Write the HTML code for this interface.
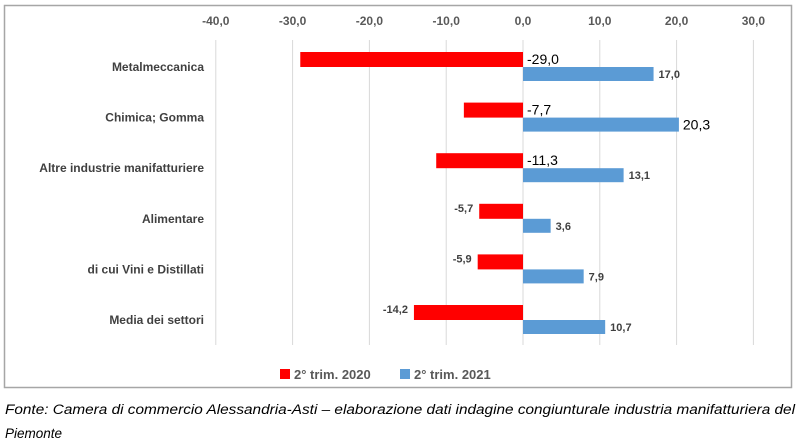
<!DOCTYPE html>
<html><head><meta charset="utf-8"><style>
html,body{margin:0;padding:0;background:#fff;}
svg{display:block;font-family:"Liberation Sans",sans-serif;}
</style></head><body>
<svg width="797" height="442" viewBox="0 0 797 442">
<rect x="4.5" y="5.5" width="787" height="382" fill="#fff" stroke="#a6a6a6" stroke-width="1.5"/>
<g id="grid"></g>
<g id="ticks"></g>
<g id="cats"></g>
<g id="bars"></g>
<g>
 <rect x="280" y="369" width="10" height="10" fill="#ff0000"/>
 <text x="294" y="379" font-size="13" font-weight="bold" fill="#595959">2° trim. 2020</text>
 <rect x="400" y="369" width="10" height="10" fill="#5b9bd5"/>
 <text x="414" y="379" font-size="13" font-weight="bold" fill="#595959">2° trim. 2021</text>
</g>
<text x="5" y="414" font-size="13.5" font-style="italic" fill="#000" textLength="790" lengthAdjust="spacingAndGlyphs">Fonte: Camera di commercio Alessandria-Asti – elaborazione dati indagine congiunturale industria manifatturiera del</text>
<text x="5" y="438" font-size="13.5" font-style="italic" fill="#000">Piemonte</text>
</svg>
<script>
const categories=["Metalmeccanica","Chimica; Gomma","Altre industrie manifatturiere","Alimentare","di cui Vini e Distillati","Media dei settori"];
const values2020=[-29.0,-7.7,-11.3,-5.7,-5.9,-14.2];
const values2021=[17.0,20.3,13.1,3.6,7.9,10.7];
const tickValues=[-40,-30,-20,-10,0,10,20,30];
const NS="http://www.w3.org/2000/svg";
const x=v=>523+v*7.68;
const yc=i=>67+i*50.6;
const fmt=v=>v.toFixed(1).replace('.',',');
function mk(tag,attrs,parent,txt){const e=document.createElementNS(NS,tag);for(const k in attrs)e.setAttribute(k,attrs[k]);if(txt!=null)e.textContent=txt;parent.appendChild(e);return e;}
const grid=document.getElementById('grid'),ticks=document.getElementById('ticks'),cats=document.getElementById('cats'),bars=document.getElementById('bars');
tickValues.forEach(t=>{
 const l=mk('line',{x1:x(t),x2:x(t),y1:40,y2:345,stroke:'#d9d9d9','stroke-width':1},grid);
 
 
 const tx=mk('text',{x:x(t),y:25,'text-anchor':'middle','font-size':12,'font-weight':'bold',fill:'#595959'},ticks,fmt(t));
 
 
});
categories.forEach((c,i)=>{
 const t=mk('text',{x:204,y:yc(i)+4,'text-anchor':'end','font-size':12,'font-weight':'bold',fill:'#404040'},cats,c);
 
 
 const big=i<3;
 const a=values2020[i],b=values2021[i];
 const r=mk('rect',{x:Math.min(x(a),x(0)),y:yc(i)-15,width:Math.abs(x(a)-x(0)),height:15,fill:'#ff0000'},bars);
 
 
 const bb=mk('rect',{x:Math.min(x(b),x(0)),y:yc(i),width:Math.abs(x(b)-x(0)),height:14,fill:'#5b9bd5'},bars);
 
 
 let la;
 if(big) la=mk('text',{x:x(0)+4,y:yc(i)-3,'font-size':14,fill:'#000'},bars,fmt(a));
 else la=mk('text',{x:x(a)-6,y:yc(i)-7,'text-anchor':'end','font-size':11,'font-weight':'bold',fill:'#404040'},bars,fmt(a));
 
 
 let lb;
 if(i===1) lb=mk('text',{x:x(b)+4,y:yc(i)+12,'font-size':14,fill:'#000'},bars,fmt(b));
 else lb=mk('text',{x:x(b)+5,y:yc(i)+11,'font-size':11,'font-weight':'bold',fill:'#404040'},bars,fmt(b));
 
 
});
</script>
</body></html>
